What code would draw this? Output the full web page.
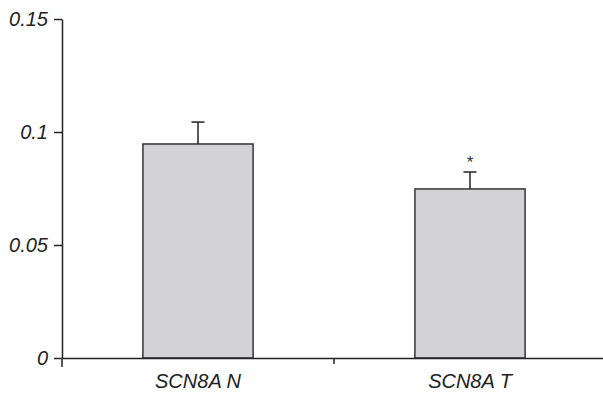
<!DOCTYPE html>
<html>
    <head>
        <meta charset="utf-8" />
        <title>SCN8A</title>
        <style type="text/css">
            body {
                margin: 0;
                background-color: #fff;
            }
            svg {
                display: block;
                background-color: #fff;
            }
            .axis path,
            .axis line {
                stroke: #222;
                stroke-width: 1.5px;
            }
            .axis text {
                font-family: "Liberation Sans Narrow", "Liberation Sans", Arial, sans-serif;
                font-style: italic;
                font-size: 20px;
                fill: #222;
            }
            .bar {
                fill: #d3d3d5;
                stroke: #333;
                stroke-width: 1.5px;
            }
            .err {
                stroke: #222;
                stroke-width: 1.5px;
            }
        </style>
        <script src="https://d3js.org/d3.v7.min.js"></script>
    </head>
    <body>
        <div id="chart"></div>
        <script type="text/javascript">
            var categories = ["SCN8A N", "SCN8A T"];
            var means = [0.0947, 0.0748];
            var errors = [0.0097, 0.0075];
            var marks = ["", "*"];
            var yTicks = [0, 0.05, 0.1, 0.15];
            var yTickLabels = ["0", "0.05", "0.1", "0.15"];

            var width = 603,
                height = 394;
            var mLeft = 62,
                mRight = 606,
                mTop = 19,
                mBottom = 358;

            var svg = d3
                .select("#chart")
                .append("svg")
                .attr("width", width)
                .attr("height", height);

            var xScale = d3
                .scaleBand()
                .domain(categories)
                .range([mLeft, mRight])
                .paddingInner(0.595)
                .paddingOuter(0.2975);

            var yScale = d3
                .scaleLinear()
                .domain([0, 0.15])
                .range([mBottom, mTop]);

            var data = categories.map(function (c, i) {
                return { name: c, value: means[i], err: errors[i], mark: marks[i] };
            });

            svg.selectAll(".bar")
                .data(data)
                .enter()
                .append("rect")
                .attr("class", "bar")
                .attr("x", function (d) {
                    return xScale(d.name);
                })
                .attr("y", function (d) {
                    return yScale(d.value);
                })
                .attr("width", xScale.bandwidth())
                .attr("height", function (d) {
                    return yScale(0) - yScale(d.value);
                });

            var cx = function (d) {
                return xScale(d.name) + xScale.bandwidth() / 2;
            };

            // error bars (upper only)
            svg.selectAll(".errv")
                .data(data)
                .enter()
                .append("line")
                .attr("class", "err")
                .attr("x1", cx)
                .attr("x2", cx)
                .attr("y1", function (d) {
                    return yScale(d.value);
                })
                .attr("y2", function (d) {
                    return yScale(d.value + d.err);
                });

            svg.selectAll(".errc")
                .data(data)
                .enter()
                .append("line")
                .attr("class", "err")
                .attr("x1", function (d) {
                    return cx(d) - 6.5;
                })
                .attr("x2", function (d) {
                    return cx(d) + 6.5;
                })
                .attr("y1", function (d) {
                    return yScale(d.value + d.err);
                })
                .attr("y2", function (d) {
                    return yScale(d.value + d.err);
                });

            svg.selectAll(".mark")
                .data(data)
                .enter()
                .append("text")
                .attr("x", cx)
                .attr("y", function (d) {
                    return yScale(d.value + d.err) - 4;
                })
                .attr("text-anchor", "middle")
                .style("font-family", "Liberation Sans, Arial, sans-serif")
                .style("font-size", "17px")
                .style("fill", "#333")
                .text(function (d) {
                    return d.mark;
                });

            var xAxis = d3
                .axisBottom(xScale)
                .tickSize(0)
                .tickSizeOuter(0)
                .tickPadding(16);

            var xAxisG = svg
                .append("g")
                .attr("class", "axis")
                .attr("transform", "translate(0," + mBottom + ")")
                .call(xAxis);

            // divider tick between categories
            xAxisG
                .append("line")
                .attr("x1", (mLeft + mRight) / 2)
                .attr("x2", (mLeft + mRight) / 2)
                .attr("y1", 0)
                .attr("y2", 6);

            var yAxis = d3
                .axisLeft(yScale)
                .tickValues(yTicks)
                .tickFormat(function (d, i) {
                    return yTickLabels[i];
                })
                .tickSize(8)
                .tickSizeOuter(0)
                .tickPadding(6);

            var yAxisG = svg
                .append("g")
                .attr("class", "axis")
                .attr("transform", "translate(" + mLeft + ",0)")
                .call(yAxis);

            yAxisG
                .append("line")
                .attr("x1", 0)
                .attr("x2", 0)
                .attr("y1", mBottom)
                .attr("y2", mBottom + 9);
        </script>
    </body>
</html>
